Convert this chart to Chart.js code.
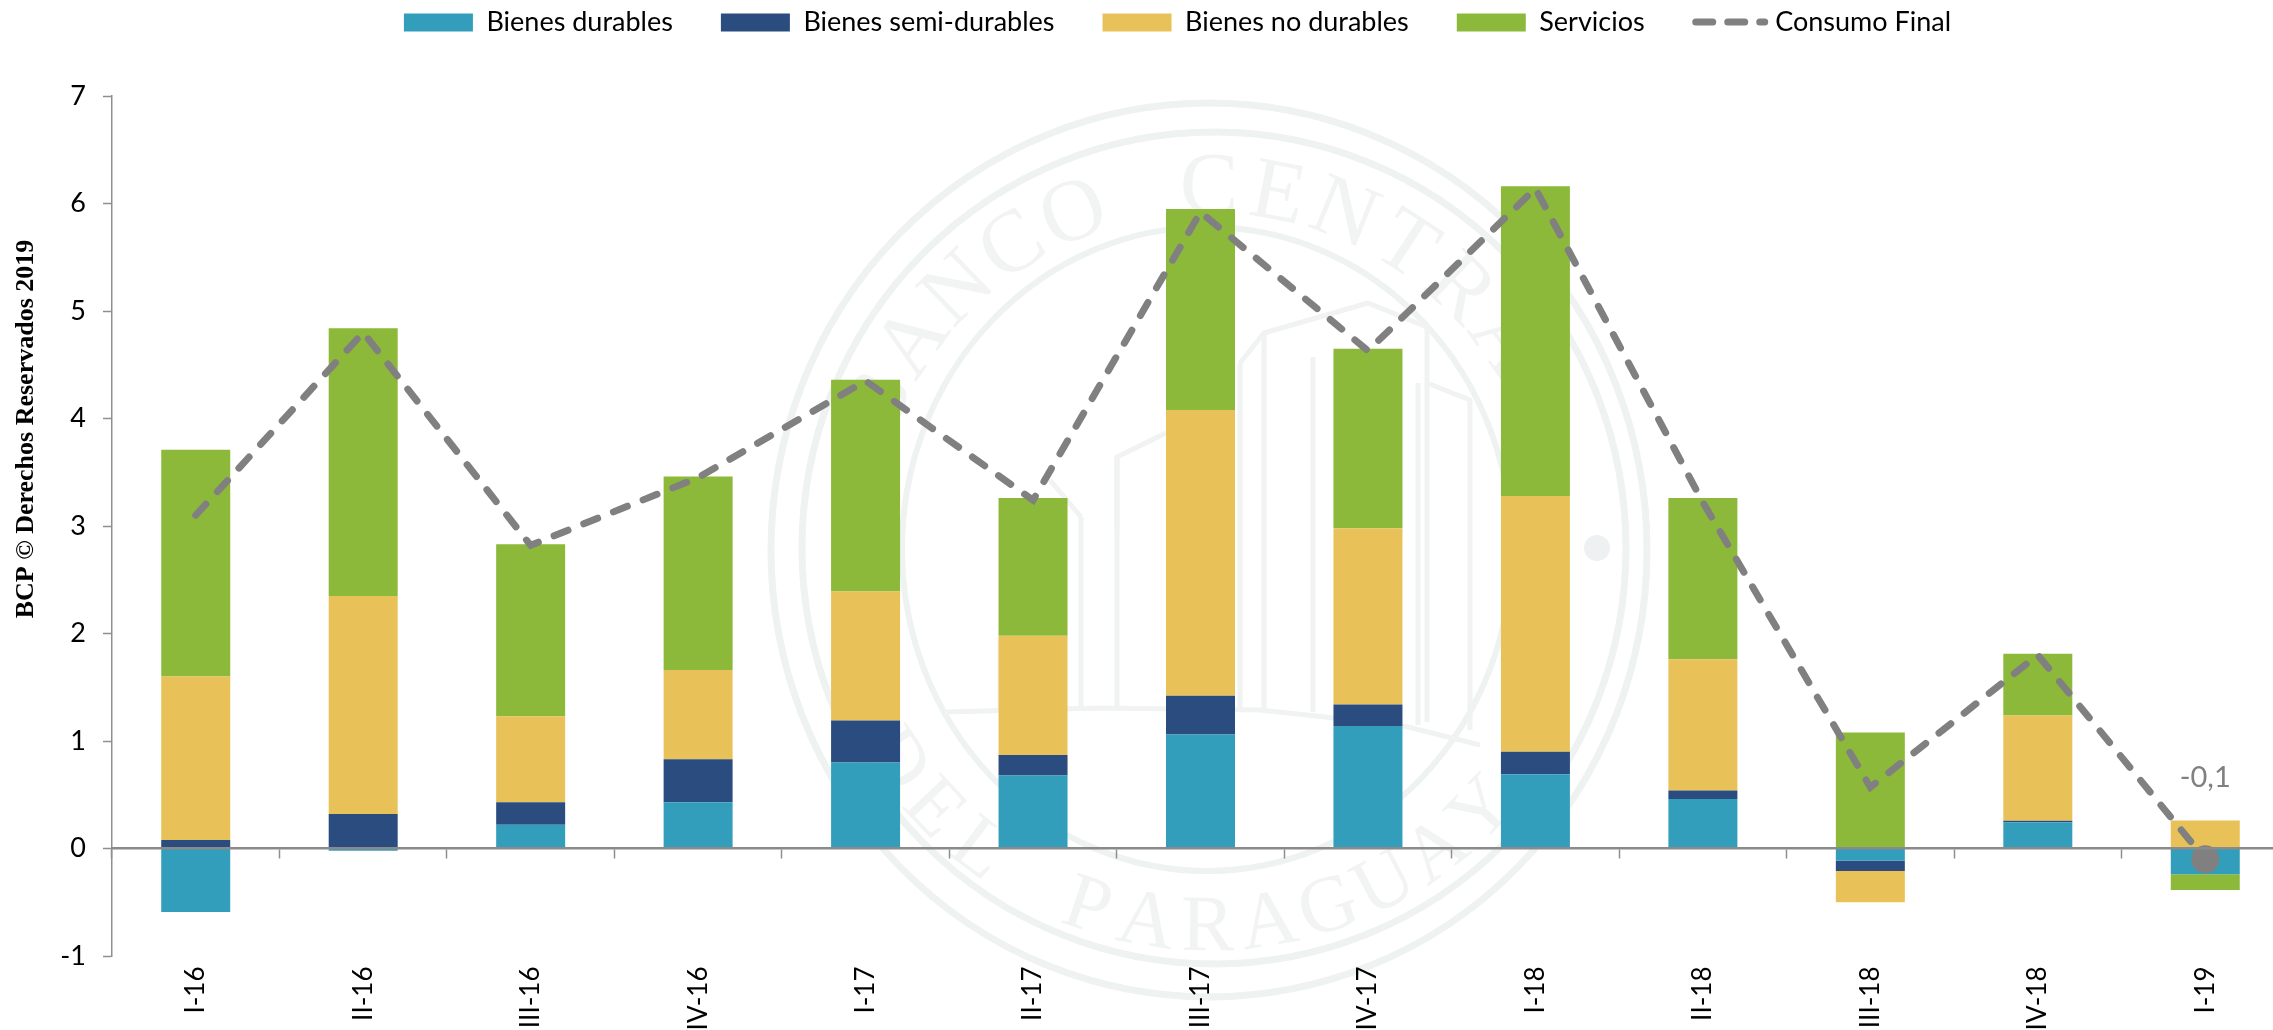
<!DOCTYPE html>
<html lang="es">
<head>
<meta charset="utf-8">
<title>Consumo Final</title>
<style>
html,body{margin:0;padding:0;background:#fff;overflow:hidden;width:2273px;height:1030px}
#wrap{position:absolute;left:0;top:0;width:2354px;height:1030px}
canvas{display:block}
</style>
<script src="https://cdn.jsdelivr.net/npm/chart.js@4"></script>
</head>
<body>
<div id="wrap"><canvas id="c" width="2354" height="1030"></canvas></div>
<script>
const categories = ["I-16","II-16","III-16","IV-16","I-17","II-17","III-17","IV-17","I-18","II-18","III-18","IV-18","I-19"];
const bienesDurables     = [-0.59,-0.02,0.22,0.43,0.80,0.68,1.06,1.14,0.69,0.46,-0.115,0.245,-0.24];
const bienesSemiDurables = [0.08,0.32,0.21,0.40,0.39,0.19,0.36,0.20,0.21,0.08,-0.095,0.012,0];
const bienesNoDurables   = [1.52,2.03,0.80,0.83,1.20,1.11,2.66,1.64,2.38,1.22,-0.29,0.98,0.26];
const servicios          = [2.11,2.49,1.60,1.80,1.97,1.28,1.87,1.67,2.88,1.50,1.08,0.575,-0.145];
const consumoFinal       = [3.10,4.80,2.82,3.45,4.35,3.24,5.92,4.63,6.14,3.22,0.57,1.80,-0.10];
const yTicks = [-1,0,1,2,3,4,5,6,7];
const lastLabel = "-0,1";
const yNote = "BCP © Derechos Reservados 2019";
const sealTop = "BANCO CENTRAL";
const sealBottom = "DEL PARAGUAY";

const GRAY = "#808080";
const SANS = "Lato, 'Open Sans', sans-serif";

function arcText(ctx, text, cx, cy, r, startDeg, stepDeg, flip){
  [...text].forEach((ch,i)=>{
    const a = (startDeg + stepDeg*i) * Math.PI/180;
    ctx.save();
    ctx.translate(cx + r*Math.sin(a), cy - r*Math.cos(a));
    ctx.rotate(flip ? a + Math.PI : a);
    ctx.fillText(ch,0,0);
    ctx.restore();
  });
}

const seal = {
  id:"seal",
  beforeDraw(chart){
    const c = chart.ctx, cx = 1209, cy = 549;
    c.save();
    c.strokeStyle = "#eef2f1";
    [[1209,550,438,447,7],[1214,548,412,416,7],[1207,549,305,322,6]].forEach(e=>{
      c.lineWidth = e[4];
      c.beginPath(); c.ellipse(e[0],e[1],e[2],e[3],0,0,Math.PI*2); c.stroke();
    });
    c.fillStyle = "#f1f4f3";
    c.font = "88px 'Liberation Serif', serif";
    c.textAlign = "center"; c.textBaseline = "alphabetic";
    arcText(c, sealTop, cx, cy, 336, -66, 11, false);
    c.font = "80px 'Liberation Serif', serif";
    arcText(c, sealBottom, cx, cy, 401, 236, -9.3, true);
    c.lineWidth = 5; c.strokeStyle = "#f0f3f2"; c.lineJoin = "round";
    const paths = [
      [[1240,363],[1264,333],[1368,303],[1427,327],[1427,383],[1470,400],[1470,730]],
      [[1264,333],[1264,710]],[[1313,357],[1313,712]],[[1240,363],[1240,708]],
      [[1418,383],[1418,725]],[[1427,383],[1427,722]],
      [[1117,530],[1117,457],[1166,433]],[[1081,517],[1081,710]],[[1117,457],[1117,708]],
      [[1000,640],[1000,712]],[[1000,640],[1040,580]],[[1050,480],[1081,517]],
      [[945,712],[1100,708],[1260,710],[1400,725],[1480,745]]
    ];
    paths.forEach(p=>{
      c.beginPath();
      p.forEach((q,i)=> i ? c.lineTo(q[0],q[1]) : c.moveTo(q[0],q[1]));
      c.stroke();
    });
    c.fillStyle = "#eef1f1";
    c.beginPath(); c.arc(1597,548,13,0,Math.PI*2); c.fill();
    c.restore();
  }
};

const extras = {
  id:"extras",
  beforeLayout(chart){
    const l = chart.legend;
    if(l && !l._fitWrapped){
      const fit = l.fit;
      l.fit = function(){ fit.call(this); this.height = 135; };
      l._fitWrapped = true;
    }
  },
  afterLayout(chart){
    chart.legend.left += 33;
    chart.legend.right += 33;
  },
  afterDraw(chart){
    const c = chart.ctx;
    // dashed sample of the line series, inside its legend hit box
    const box = chart.legend.legendHitBoxes[4];
    if(box){
      const y = box.top + box.height/2 - 0.5;
      c.save();
      c.strokeStyle = GRAY; c.lineWidth = 7; c.lineCap = "round";
      c.setLineDash([17,15]);
      c.beginPath(); c.moveTo(box.left+3,y); c.lineTo(box.left+72,y); c.stroke();
      c.restore();
    }
    // value label of the last point
    const meta = chart.getDatasetMeta(4);
    const pt = meta.data[meta.data.length-1];
    c.save();
    c.fillStyle = GRAY; c.font = "29px "+SANS;
    c.textAlign = "center"; c.textBaseline = "alphabetic";
    c.fillText(lastLabel, pt.x, 787);
    c.restore();
    // note rotated along the left side
    c.save();
    c.translate(33,429); c.rotate(-Math.PI/2);
    c.fillStyle = "#000"; c.font = "bold 26px 'Liberation Serif', serif";
    c.textAlign = "center"; c.textBaseline = "alphabetic";
    c.fillText(yNote,0,0);
    c.restore();
  }
};

const barOpts = {type:"bar", stack:"s", barPercentage:0.412, categoryPercentage:1, order:2, borderWidth:0};
new Chart(document.getElementById("c"),{
  data:{
    labels:categories,
    datasets:[
      {...barOpts,label:"Bienes durables",data:bienesDurables,backgroundColor:"#339EBB"},
      {...barOpts,label:"Bienes semi-durables",data:bienesSemiDurables,backgroundColor:"#2B4C7F"},
      {...barOpts,label:"Bienes no durables",data:bienesNoDurables,backgroundColor:"#E8C258"},
      {...barOpts,label:"Servicios",data:servicios,backgroundColor:"#8DB93A"},
      {type:"line",label:"Consumo Final",data:consumoFinal,order:1,borderColor:GRAY,backgroundColor:GRAY,
       borderWidth:7,borderDash:[15,17],borderCapStyle:"round",tension:0,
       pointRadius:ctx=>ctx.dataIndex===categories.length-1?14:0,pointBackgroundColor:GRAY,pointBorderWidth:0}
    ]
  },
  options:{
    responsive:false,animation:false,
    layout:{padding:{top:-39,right:65,bottom:74,left:0}},
    plugins:{
      tooltip:{enabled:false},
      title:{display:false},
      legend:{
        position:"top",align:"center",
        labels:{
          boxWidth:69,boxHeight:18,padding:48,color:"#000",font:{family:SANS,size:27},
          generateLabels(chart){
            return chart.data.datasets.map((d,i)=>({
              text:d.label,
              fillStyle:d.type==="line"?"rgba(0,0,0,0)":d.backgroundColor,
              strokeStyle:"rgba(0,0,0,0)",lineWidth:0,hidden:false,datasetIndex:i
            }));
          }
        }
      }
    },
    scales:{
      x:{
        position:{y:0},stacked:true,offset:true,
        grid:{drawOnChartArea:false,tickLength:9,tickColor:"#8f8f8f",tickWidth:1.5,offset:true,z:1},
        border:{display:true,color:"#8a8a8a",width:2.5,z:1},
        ticks:{minRotation:90,maxRotation:90,padding:109,color:"#000",autoSkip:false,font:{family:SANS,size:26}}
      },
      y:{
        stacked:true,min:-1,max:7,
        afterFit(s){ s.width = 112; },
        afterBuildTicks(s){ s.ticks = yTicks.map(v=>({value:v})); },
        grid:{drawOnChartArea:false,tickLength:9,tickColor:"#8f8f8f",tickWidth:1.5},
        border:{display:true,color:"#8f8f8f",width:1.5},
        ticks:{padding:17,color:"#000",font:{family:SANS,size:27},callback:v=>String(v)}
      }
    }
  },
  plugins:[seal,extras]
});
</script>
</body>
</html>
